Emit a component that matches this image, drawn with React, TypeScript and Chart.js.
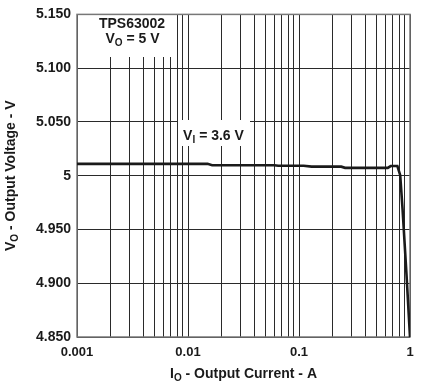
import React, { useEffect, useRef } from 'react';
import { Chart, registerables } from 'chart.js';

Chart.register(...registerables);

// Output current (A) and output voltage (V)
const currentA = [0.001, 0.015, 0.0165, 0.06, 0.065, 0.11, 0.13, 0.24, 0.26, 0.63, 0.67, 0.77, 0.816, 0.857, 0.93, 1.0];
const voltageV = [5.011, 5.011, 5.0097, 5.0097, 5.0092, 5.0092, 5.0084, 5.0084, 5.0073, 5.0073, 5.009, 5.009, 5.0005, 4.969, 4.908, 4.85];

// Axis grid / tick definitions
const xGridValues = [
  0.001, 0.002, 0.003, 0.004, 0.005, 0.006, 0.007, 0.008, 0.009,
  0.01, 0.02, 0.03, 0.04, 0.05, 0.06, 0.07, 0.08, 0.09,
  0.1, 0.2, 0.3, 0.4, 0.5, 0.6, 0.7, 0.8, 0.9,
  1,
];
const xMajorValues = [0.001, 0.01, 0.1, 1];
const xMajorLabels = ['0.001', '0.01', '0.1', '1'];
const yTickValues = [4.85, 4.9, 4.95, 5, 5.05, 5.1, 5.15];
const yTickLabels = ['4.850', '4.900', '4.950', '5', '5.050', '5.100', '5.150'];

const FONT = '"Liberation Sans", Arial, sans-serif';
const TEXT = '#1a1a1a';

type Part = [string, boolean];

function measureParts(ctx: CanvasRenderingContext2D, parts: Part[], size: number, sub: number) {
  let w = 0;
  for (const [t, isSub] of parts) {
    ctx.font = `bold ${isSub ? sub : size}px ${FONT}`;
    w += ctx.measureText(t).width;
  }
  return w;
}

function drawParts(ctx: CanvasRenderingContext2D, parts: Part[], cx: number, baseline: number, size: number, sub: number, subOff: number) {
  const w = measureParts(ctx, parts, size, sub);
  let x = cx - w / 2;
  ctx.textAlign = 'left';
  ctx.textBaseline = 'alphabetic';
  for (const [t, isSub] of parts) {
    ctx.font = `bold ${isSub ? sub : size}px ${FONT}`;
    ctx.fillText(t, x, baseline + (isSub ? subOff : 0));
    x += ctx.measureText(t).width;
  }
}

const overlay = {
  id: 'overlay',
  beforeDatasetsDraw(chart: any) {
    const { ctx, chartArea: a } = chart;
    ctx.save();
    // white label boxes
    ctx.fillStyle = '#ffffff';
    ctx.fillRect(78, 7, 98, 50);
    ctx.fillRect(178, 120, 72, 26);
    // plot frame
    ctx.strokeStyle = '#777777';
    ctx.lineWidth = 1.5;
    ctx.strokeRect(a.left, a.top, a.right - a.left, a.bottom - a.top);
    ctx.fillStyle = TEXT;
    // annotations
    drawParts(ctx, [['TPS63002', false]], 132, 27.5, 14, 10, 0);
    drawParts(ctx, [['V', false], ['O', true], [' = 5 V', false]], 132.5, 42.5, 14, 10, 3);
    drawParts(ctx, [['V', false], ['I', true], [' = 3.6 V', false]], 213.5, 139.5, 14, 10, 3);
    // x axis title
    drawParts(ctx, [['I', false], ['O', true], [' - Output Current - A', false]], (a.left + a.right) / 2, 377.5, 14, 10, 3);
    // y axis title
    ctx.save();
    ctx.translate(15, (a.top + a.bottom) / 2);
    ctx.rotate(-Math.PI / 2);
    drawParts(ctx, [['V', false], ['O', true], [' - Output Voltage - V', false]], 0, 0, 14, 10, 3);
    ctx.restore();
    ctx.restore();
  },
};

export default function App() {
  const ref = useRef<HTMLCanvasElement | null>(null);
  useEffect(() => {
    document.body.style.margin = '0';
    const canvas = ref.current;
    if (!canvas) return;
    const chart = new Chart(canvas, {
      type: 'line',
      data: {
        datasets: [
          {
            data: currentA.map((x, i) => ({ x, y: voltageV[i] })),
            borderColor: '#1a1a1a',
            borderWidth: 2.6,
            pointRadius: 0,
            tension: 0,
            fill: false,
          },
        ],
      },
      options: {
        animation: false,
        responsive: false,
        devicePixelRatio: 1,
        layout: { padding: { left: 0, right: 14, top: 4, bottom: 0 } },
        plugins: { legend: { display: false }, tooltip: { enabled: false } },
        scales: {
          x: {
            type: 'logarithmic',
            min: 0.001,
            max: 1,
            afterBuildTicks: (scale: any) => {
              scale.ticks = xGridValues.map((v) => ({ value: v }));
            },
            afterFit: (scale: any) => {
              scale.height = 52;
            },
            grid: { color: '#2a2a2a', lineWidth: 1, drawTicks: false },
            border: { display: false },
            ticks: {
              autoSkip: false,
              maxRotation: 0,
              padding: 8,
              color: TEXT,
              font: { family: FONT, size: 13, weight: 'bold' },
              callback: (value: any) => {
                const idx = xMajorValues.findIndex((m) => Math.abs(m - Number(value)) < m * 1e-6);
                return idx >= 0 ? xMajorLabels[idx] : '';
              },
            },
          },
          y: {
            type: 'linear',
            min: 4.85,
            max: 5.15,
            afterBuildTicks: (scale: any) => {
              scale.ticks = yTickValues.map((v) => ({ value: v }));
            },
            afterFit: (scale: any) => {
              scale.width = 77;
            },
            grid: { color: '#2a2a2a', lineWidth: 1, drawTicks: false },
            border: { display: false },
            ticks: {
              padding: 6,
              color: TEXT,
              font: { family: FONT, size: 14, weight: 'bold' },
              callback: (_v: any, index: number) => yTickLabels[index],
            },
          },
        },
      },
      plugins: [overlay],
    } as any);
    return () => chart.destroy();
  }, []);
  return (
    <div style={{ width: 424, height: 389 }}>
      <canvas ref={ref} width={424} height={389} style={{ display: 'block', width: 424, height: 389 }} />
    </div>
  );
}
